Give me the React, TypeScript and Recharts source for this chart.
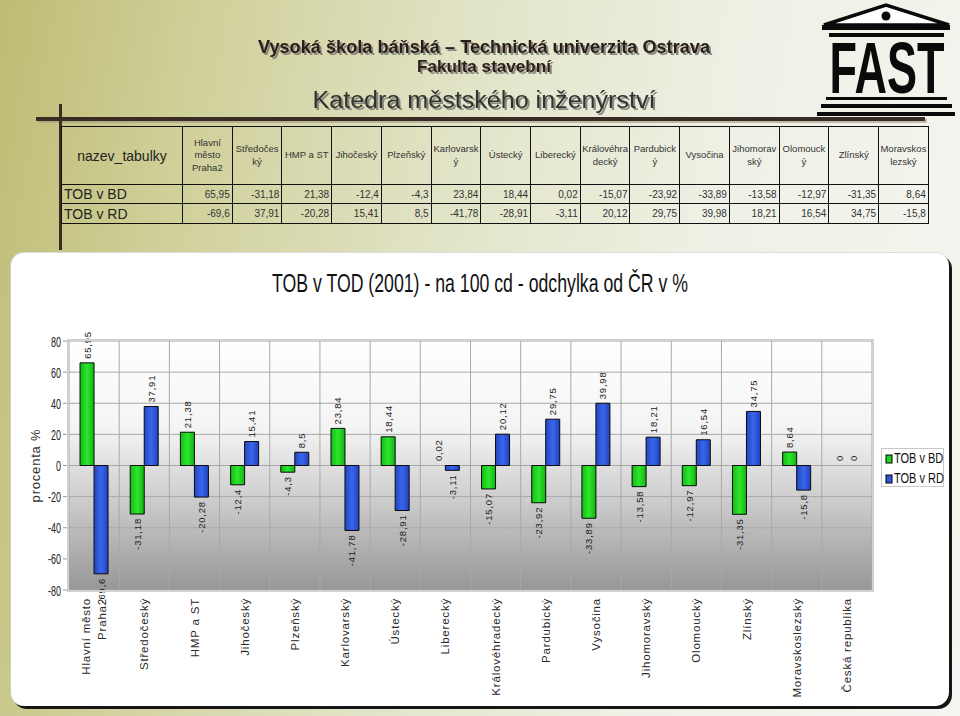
import React from 'react';
import { BarChart, Bar, XAxis, YAxis, CartesianGrid, LabelList, Rectangle } from 'recharts';

// regions on the chart's category axis ('\n' = line break in the tick)
const regions = [
  'Hlavní město\nPraha2', 'Středočeský', 'HMP a ST', 'Jihočeský', 'Plzeňský', 'Karlovarský',
  'Ústecký', 'Liberecký', 'Královéhradecký', 'Pardubický', 'Vysočina', 'Jihomoravský',
  'Olomoucký', 'Zlínský', 'Moravskoslezský', 'Česká republika',
];

// table header cells as they wrap in the sheet
const tableHeads = [
  'Hlavní\nměsto\nPraha2', 'Středočes\nký', 'HMP a ST', 'Jihočeský', 'Plzeňský', 'Karlovarsk\ný',
  'Ústecký', 'Liberecký', 'Královéhra\ndecký', 'Pardubick\ný', 'Vysočina', 'Jihomorav\nský',
  'Olomouck\ný', 'Zlínský', 'Moravskos\nlezský',
];

const tobBD = [65.95, -31.18, 21.38, -12.4, -4.3, 23.84, 18.44, 0.02, -15.07, -23.92, -33.89, -13.58, -12.97, -31.35, 8.64, 0];
const tobRD = [-69.6, 37.91, -20.28, 15.41, 8.5, -41.78, -28.91, -3.11, 20.12, 29.75, 39.98, 18.21, 16.54, 34.75, -15.8, 0];

const yTicks = [-80, -60, -40, -20, 0, 20, 40, 60, 80];
const seriesNames = ['TOB v BD', 'TOB v RD'];
const seriesColors = ['#1fd41f', '#2f58dc'];

const chartTitle = 'TOB v TOD (2001) -  na 100 cd - odchylka od ČR v %';

const data = regions.map((name, i) => ({ name, bd: tobBD[i], rd: tobRD[i] }));

const FONT = "'Liberation Sans', Arial, Helvetica, sans-serif";
const fmt = (v: number) => String(v).replace('.', ',');

// bars thinner than a pixel are not visible in the original, only their labels
const BarShape = (props: any) => {
  if (Math.abs(props.height ?? 0) < 1) return <g />;
  return <Rectangle {...props} />;
};

const BarLabel = (props: any) => {
  const { x, y, width, height, value } = props;
  if (value === undefined || value === null) return null;
  const top = Math.min(y, y + height);
  const bottom = Math.max(y, y + height);
  const cx = x + width / 2;
  const pos = value >= 0;
  const ay = pos ? top - 4 : bottom + 4;
  return (
    <text
      transform={`translate(${cx},${ay}) rotate(-90)`}
      textAnchor={pos ? 'start' : 'end'}
      dominantBaseline="central"
      fontSize={9.5}
      letterSpacing={0.8}
      fill="#222"
      fontFamily={FONT}
    >
      {fmt(value)}
    </text>
  );
};

const CatTick = ({ x, y, payload }: any) => {
  const lines = String(payload.value).split('\n');
  const first = 0.35 - ((lines.length - 1) * 1.35) / 2;
  return (
    <g transform={`translate(${x},${y + 8})`}>
      <text transform="rotate(-90)" textAnchor="end" fontSize={11.5} letterSpacing={0.8} fill="#2a2a2a" fontFamily={FONT}>
        {lines.map((l, i) => (
          <tspan key={i} x={0} dy={i === 0 ? `${first}em` : '1.35em'}>{l}</tspan>
        ))}
      </text>
    </g>
  );
};

const YTick = ({ x, y, payload }: any) => {
  const s = String(payload.value);
  const digits = s.replace('-', '').length;
  const len = digits * 5 + (s.startsWith('-') ? 3 : 0);
  return (
    <text x={x} y={y} textAnchor="end" dominantBaseline="central" fontSize={15} fill="#222"
      fontFamily={FONT} textLength={len} lengthAdjust="spacingAndGlyphs">
      {s}
    </text>
  );
};

const YLabel = ({ viewBox }: any) => {
  const cx = (viewBox?.x ?? 29) + 6;
  const cy = (viewBox?.y ?? 341) + (viewBox?.height ?? 249) / 2;
  return (
    <text transform={`translate(${cx},${cy}) rotate(-90)`} textAnchor="middle" dominantBaseline="central"
      fontSize={13} fontWeight="normal" letterSpacing={0.8} fill="#333" fontFamily={FONT}>
      procenta %
    </text>
  );
};

const Header = () => (
  <svg width={960} height={252} style={{ position: 'absolute', left: 0, top: 0 }}>
    <defs>
      <filter id="hdrShadow" x="-5%" y="-30%" width="110%" height="160%">
        <feDropShadow dx={2} dy={2} stdDeviation={0.6} floodColor="#7d7d74" floodOpacity={0.9} />
      </filter>
    </defs>
    {/* school names */}
    <g fontFamily={FONT} fontWeight="bold" textAnchor="middle" filter="url(#hdrShadow)">
      <text x={484} y={53} fontSize={18} fill="#2c1a18" textLength={452} lengthAdjust="spacingAndGlyphs">
        Vysoká škola báňská – Technická univerzita Ostrava
      </text>
      <text x={484} y={72} fontSize={17} fill="#2c1a18" textLength={134} lengthAdjust="spacingAndGlyphs">
        Fakulta stavební
      </text>
      <text x={484} y={108} fontSize={23} fontWeight="normal" fill="#333" textLength={343} lengthAdjust="spacingAndGlyphs">
        Katedra městského inženýrství
      </text>
    </g>
    {/* FAST logo */}
    <g fill="#0a0a0a">
      <polygon points="824,25 886,5 949,25" fill="#fff" stroke="#0a0a0a" strokeWidth={3.5} strokeLinejoin="miter" />
      <circle cx={886} cy={16} r={4.5} />
      <rect x={822} y={25} width={128} height={5} />
      <rect x={829} y={33} width={115} height={4} />
      <g transform="translate(887,93) scale(1,1.6)">
        <text x={0} y={0} fontSize={45} fontWeight="bold" fontFamily={FONT} textAnchor="middle">FAST</text>
      </g>
      <rect x={826} y={97} width={121} height={3} />
      <rect x={821} y={104} width={131} height={4} />
      <rect x={817} y={112} width={138} height={4} />
    </g>
    {/* frame lines */}
    <rect x={38} y={119} width={889} height={4} fill="#9c9a80" opacity={0.6} />
    <rect x={36} y={117} width={889} height={4} fill="#3a2c24" />
    <rect x={59} y={104} width={3} height={146} fill="#3a2c24" />
  </svg>
);

const cellBorder = '1.5px solid #111';

const DataTable = () => (
  <table
    style={{
      position: 'absolute', left: 61, top: 126, width: 867, borderCollapse: 'collapse',
      tableLayout: 'fixed', fontFamily: FONT, color: '#222',
    }}
  >
    <colgroup>
      <col style={{ width: 121 }} />
      {tableHeads.map((_, i) => <col key={i} style={{ width: 49.73 }} />)}
    </colgroup>
    <tbody>
      <tr style={{ height: 58 }}>
        <td style={{ border: cellBorder, textAlign: 'center', fontSize: 14, padding: 0 }}>nazev_tabulky</td>
        {tableHeads.map((h, i) => (
          <td key={i} style={{ border: cellBorder, textAlign: 'center', fontSize: 9.5, lineHeight: '12.5px', padding: 0, color: '#333' }}>
            {h.split('\n').map((l, j) => <div key={j}>{l}</div>)}
          </td>
        ))}
      </tr>
      {[tobBD, tobRD].map((row, r) => (
        <tr key={r} style={{ height: r === 0 ? 19 : 20 }}>
          <td style={{ border: cellBorder, fontSize: 14, padding: '0 0 0 2px', lineHeight: '16px' }}>{seriesNames[r]}</td>
          {tableHeads.map((_, i) => (
            <td key={i} style={{ border: cellBorder, textAlign: 'right', fontSize: 10, padding: '0 2px 0 0', color: '#333' }}>
              {fmt(row[i])}
            </td>
          ))}
        </tr>
      ))}
    </tbody>
  </table>
);

const LegendBox = () => (
  <svg width={70} height={40} style={{ position: 'absolute', left: 881, top: 448 }}>
    <rect x={0.5} y={0.5} width={62} height={38} fill="#fff" stroke="#c8c8c8" />
    {seriesNames.map((n, i) => (
      <g key={n} transform={`translate(0,${11 + i * 20})`}>
        <rect x={5} y={-4} width={6} height={8} fill={seriesColors[i]} stroke="#000" strokeWidth={1} />
        <g transform="translate(13,4) scale(1,1.27)">
          <text x={0} y={0} fontSize={11} fill="#111" fontFamily={FONT}>{n}</text>
        </g>
      </g>
    ))}
  </svg>
);

export default function App() {
  return (
    <div
      style={{
        position: 'absolute', left: 0, top: 0, width: 960, height: 716, overflow: 'hidden',
        fontFamily: FONT,
        background:
          'linear-gradient(100deg, #bebc74 0%, #cfcf98 18%, #e2e4c8 45%, #eff1e6 70%, #f4f5f0 100%)',
      }}
    >
      <svg width={0} height={0} style={{ position: 'absolute' }}>
        <defs>
          <linearGradient id="plotBg" x1="0" y1="0" x2="0" y2="1">
            <stop offset="0%" stopColor="#ffffff" />
            <stop offset="35%" stopColor="#f4f4f4" />
            <stop offset="60%" stopColor="#d2d2d2" />
            <stop offset="100%" stopColor="#979797" />
          </linearGradient>
          <linearGradient id="gBD" x1="0" y1="0" x2="1" y2="0">
            <stop offset="0%" stopColor="#12bd12" />
            <stop offset="50%" stopColor="#2fe52f" />
            <stop offset="100%" stopColor="#10b410" />
          </linearGradient>
          <linearGradient id="gRD" x1="0" y1="0" x2="1" y2="0">
            <stop offset="0%" stopColor="#2346c4" />
            <stop offset="50%" stopColor="#3a66ea" />
            <stop offset="100%" stopColor="#2042be" />
          </linearGradient>
        </defs>
      </svg>

      <Header />
      <DataTable />

      {/* white chart panel */}
      <div
        style={{
          position: 'absolute', left: 10, top: 252, width: 938, height: 453, background: '#fff',
          borderRadius: 14, boxShadow: '3px 3px 0 #161616', borderLeft: '1px solid #ccc', borderTop: '1px solid #ddd',
        }}
      />

      <svg width={960} height={320} style={{ position: 'absolute', left: 0, top: 0 }}>
        <text x={480} y={292} textAnchor="middle" fontSize={26} fill="#111" fontFamily={FONT}
          textLength={416} lengthAdjust="spacingAndGlyphs">
          {chartTitle}
        </text>
      </svg>

      <div style={{ position: 'absolute', left: 0, top: 0 }}>
        <BarChart
          width={960}
          height={716}
          data={data}
          margin={{ top: 341, right: 88, bottom: 16, left: 29 }}
          barCategoryGap="22%"
          barGap={0}
        >
          <CartesianGrid
            stroke="#a8a8a8"
            fill="url(#plotBg)"
            fillOpacity={1}
            verticalCoordinatesGenerator={(p: any) => {
              const left = p?.offset?.left ?? 69;
              const w = p?.offset?.width ?? 803;
              return regions.map((_, i) => left + (i * w) / regions.length).concat(left + w);
            }}
          />
          <XAxis dataKey="name" interval={0} axisLine={false} tickLine={false} tickSize={0} tickMargin={0}
            height={110} tick={<CatTick />} />
          <YAxis domain={[-80, 80]} ticks={yTicks} width={40} axisLine={false}
            tickLine={{ stroke: '#9a9a9a' }} tickSize={6} tickMargin={2} tick={<YTick />}
            label={<YLabel />} />
          <Bar dataKey="bd" name={seriesNames[0]} fill="url(#gBD)" stroke="#0a0a0a" strokeWidth={1}
            minPointSize={0.5} shape={<BarShape />} isAnimationActive={false}>
            <LabelList dataKey="bd" content={<BarLabel />} />
          </Bar>
          <Bar dataKey="rd" name={seriesNames[1]} fill="url(#gRD)" stroke="#0a0a0a" strokeWidth={1}
            minPointSize={0.5} shape={<BarShape />} isAnimationActive={false}>
            <LabelList dataKey="rd" content={<BarLabel />} />
          </Bar>
        </BarChart>
      </div>

      {/* plot frame */}
      <div
        style={{
          position: 'absolute', left: 67, top: 339, width: 807, height: 253, boxSizing: 'border-box',
          border: '2px solid #d0d0d0', pointerEvents: 'none',
        }}
      />

      <LegendBox />
    </div>
  );
}
